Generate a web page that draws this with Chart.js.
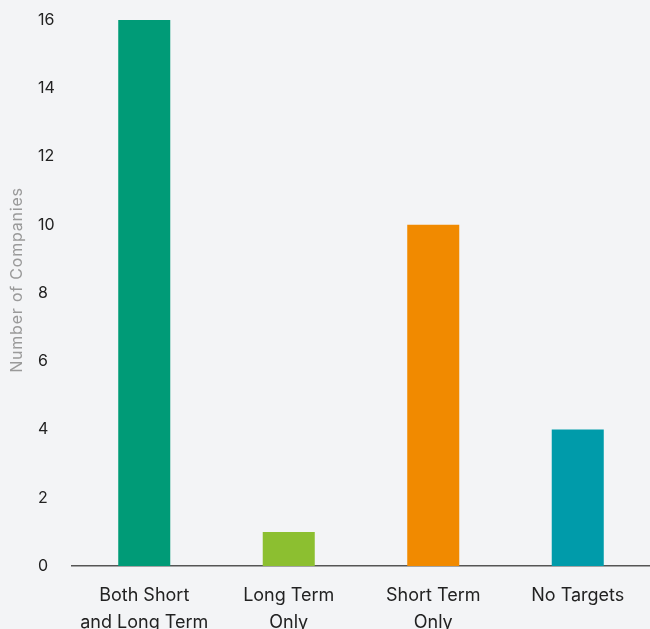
<!DOCTYPE html>
<html>
<head>
<meta charset="utf-8">
<script src="https://cdn.jsdelivr.net/npm/chart.js@4"></script>
<style>
html,body{margin:0;padding:0;background:#f3f4f6;overflow:hidden;}
#wrap{width:650px;height:644px;position:relative;}
</style>
</head>
<body>
<div id="wrap"><canvas id="c"></canvas></div>
<script>
const categories = [['Both Short','and Long Term'], ['Long Term','Only'], ['Short Term','Only'], ['No Targets']];
const companyCounts = [16, 1, 10, 4];
const barColors = ['#009b77', '#8cbf30', '#f18a00', '#009baa'];
const yTicks = [0, 2, 4, 6, 8, 10, 12, 14, 16];
const yTitle = 'Number of Companies';

const titlePlugin = {
  id: 'ytitle',
  afterDraw(chart) {
    const ctx = chart.ctx;
    ctx.save();
    ctx.translate(17, 280);
    ctx.rotate(-Math.PI / 2);
    ctx.font = '16px Inter';
    if ('letterSpacing' in ctx) ctx.letterSpacing = '0.8px';
    ctx.fillStyle = '#9a9a9a';
    ctx.textAlign = 'center';
    ctx.textBaseline = 'middle';
    ctx.fillText(yTitle, 0, 0);
    ctx.restore();
  }
};

new Chart(document.getElementById('c'), {
  type: 'bar',
  data: {
    labels: categories,
    datasets: [{
      data: companyCounts,
      backgroundColor: barColors,
      borderWidth: 0,
      barPercentage: 0.36,
      categoryPercentage: 1
    }]
  },
  options: {
    responsive: true,
    maintainAspectRatio: false,
    animation: false,
    layout: { padding: { top: 0, right: 0, left: 38, bottom: 0 } },
    plugins: { legend: { display: false }, tooltip: { enabled: false } },
    scales: {
      x: {
        afterFit: (s) => { s.height = 78; },
        grid: { display: false, drawTicks: false },
        border: { display: true, color: '#555', width: 1.5 },
        ticks: { color: '#222', font: { family: 'Inter', size: 18, lineHeight: 1.45 }, padding: 17, maxRotation: 0, autoSkip: false },
      },
      y: {
        min: 0, max: 16,
        afterFit: (s) => { s.width = 34; s.paddingTop = 20; },
        afterBuildTicks: (s) => { s.ticks = yTicks.map(v => ({ value: v })); },
        grid: { display: false, drawTicks: false },
        border: { display: false },
        ticks: { color: '#222', font: { family: 'Inter', size: 16 }, padding: 16, crossAlign: 'far' }
      }
    }
  },
  plugins: [titlePlugin]
});
</script>
</body>
</html>
